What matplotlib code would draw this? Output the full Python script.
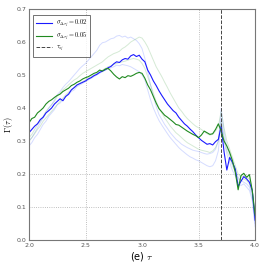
import numpy as np
import matplotlib
matplotlib.use("Agg")
import matplotlib.pyplot as plt

plt.rcParams["mathtext.fontset"] = "cm"

# tau grid, step 0.025
tau = np.linspace(2.0, 4.0, 81)
tau_s = 3.70

gamma_002 = [0.325, 0.335, 0.345, 0.352, 0.365, 0.372, 0.385, 0.392, 0.400, 0.412,
             0.420, 0.428, 0.422, 0.435, 0.442, 0.455, 0.462, 0.470, 0.474, 0.478,
             0.482, 0.488, 0.492, 0.498, 0.502, 0.508, 0.512, 0.516, 0.522, 0.526,
             0.534, 0.540, 0.538, 0.546, 0.550, 0.548, 0.558, 0.562, 0.556, 0.560,
             0.548, 0.540, 0.515, 0.500, 0.482, 0.468, 0.452, 0.438, 0.425, 0.412,
             0.402, 0.392, 0.385, 0.372, 0.362, 0.352, 0.345, 0.336, 0.328, 0.318,
             0.310, 0.302, 0.296, 0.290, 0.292, 0.288, 0.298, 0.305, 0.345, 0.268,
             0.212, 0.250, 0.235, 0.215, 0.162, 0.178, 0.192, 0.185, 0.175, 0.150,
             0.060]

gamma_005 = [0.355, 0.368, 0.372, 0.385, 0.392, 0.400, 0.412, 0.420, 0.425, 0.432,
             0.438, 0.442, 0.450, 0.455, 0.460, 0.468, 0.472, 0.478, 0.482, 0.488,
             0.492, 0.495, 0.500, 0.505, 0.508, 0.515, 0.512, 0.518, 0.520, 0.512,
             0.502, 0.494, 0.488, 0.495, 0.492, 0.498, 0.496, 0.500, 0.505, 0.508,
             0.505, 0.490, 0.470, 0.455, 0.435, 0.415, 0.398, 0.388, 0.378, 0.372,
             0.365, 0.358, 0.350, 0.348, 0.342, 0.336, 0.330, 0.325, 0.320, 0.316,
             0.310, 0.318, 0.330, 0.325, 0.320, 0.322, 0.335, 0.352, 0.330, 0.300,
             0.285, 0.265, 0.240, 0.205, 0.152, 0.195, 0.202, 0.190, 0.198, 0.150,
             0.075]

# faint single-run curves
blue_hi = [0.300, 0.310, 0.325, 0.340, 0.355, 0.370, 0.385, 0.400, 0.410, 0.425,
           0.440, 0.450, 0.462, 0.472, 0.480, 0.490, 0.500, 0.510, 0.520, 0.528,
           0.535, 0.545, 0.555, 0.565, 0.575, 0.590, 0.598, 0.600, 0.605, 0.610,
           0.612, 0.618, 0.620, 0.615, 0.618, 0.612, 0.615, 0.610, 0.605, 0.595,
           0.580, 0.550, 0.510, 0.470, 0.435, 0.405, 0.380, 0.365, 0.350, 0.338,
           0.325, 0.315, 0.305, 0.298, 0.290, 0.285, 0.280, 0.276, 0.272, 0.270,
           0.268, 0.265, 0.262, 0.260, 0.262, 0.265, 0.275, 0.300, 0.400, 0.330,
           0.280, 0.260, 0.230, 0.210, 0.190, 0.180, 0.175, 0.170, 0.160, 0.130,
           0.050]

blue_lo = [0.285, 0.295, 0.310, 0.320, 0.335, 0.350, 0.360, 0.375, 0.385, 0.395,
           0.410, 0.415, 0.425, 0.435, 0.440, 0.450, 0.455, 0.465, 0.470, 0.475,
           0.480, 0.485, 0.490, 0.495, 0.500, 0.505, 0.510, 0.515, 0.518, 0.522,
           0.525, 0.530, 0.528, 0.532, 0.530, 0.528, 0.525, 0.520, 0.515, 0.510,
           0.500, 0.485, 0.455, 0.425, 0.400, 0.380, 0.362, 0.348, 0.335, 0.322,
           0.310, 0.300, 0.290, 0.280, 0.272, 0.265, 0.258, 0.252, 0.248, 0.243,
           0.240, 0.235, 0.230, 0.225, 0.222, 0.225, 0.240, 0.270, 0.370, 0.300,
           0.260, 0.235, 0.210, 0.195, 0.175, 0.165, 0.170, 0.160, 0.150, 0.120,
           0.040]

green_hi = [0.310, 0.320, 0.335, 0.350, 0.360, 0.375, 0.390, 0.400, 0.410, 0.420,
            0.435, 0.445, 0.455, 0.462, 0.470, 0.478, 0.485, 0.490, 0.498, 0.505,
            0.510, 0.515, 0.520, 0.525, 0.530, 0.535, 0.540, 0.548, 0.555, 0.560,
            0.565, 0.568, 0.572, 0.580, 0.585, 0.592, 0.600, 0.605, 0.610, 0.615,
            0.612, 0.600, 0.585, 0.565, 0.545, 0.525, 0.510, 0.495, 0.478, 0.462,
            0.445, 0.430, 0.415, 0.400, 0.390, 0.378, 0.368, 0.360, 0.352, 0.345,
            0.340, 0.335, 0.328, 0.322, 0.318, 0.320, 0.330, 0.345, 0.390, 0.340,
            0.300, 0.275, 0.250, 0.225, 0.200, 0.190, 0.195, 0.190, 0.185, 0.150,
            0.070]

green_lo = [0.300, 0.310, 0.322, 0.335, 0.345, 0.360, 0.370, 0.380, 0.390, 0.400,
            0.410, 0.420, 0.430, 0.440, 0.448, 0.455, 0.462, 0.468, 0.475, 0.480,
            0.485, 0.490, 0.495, 0.500, 0.505, 0.510, 0.515, 0.520, 0.525, 0.528,
            0.532, 0.535, 0.538, 0.540, 0.542, 0.545, 0.548, 0.550, 0.548, 0.545,
            0.535, 0.520, 0.495, 0.470, 0.445, 0.420, 0.400, 0.385, 0.370, 0.358,
            0.345, 0.335, 0.325, 0.318, 0.310, 0.302, 0.295, 0.290, 0.285, 0.280,
            0.275, 0.272, 0.270, 0.268, 0.265, 0.270, 0.280, 0.300, 0.360, 0.310,
            0.270, 0.250, 0.225, 0.205, 0.185, 0.180, 0.185, 0.180, 0.170, 0.140,
            0.060]

# dotted guide lines
guide_x = [2.5, 3.5]
guide_y = [0.1, 0.2]

fig = plt.figure(figsize=(2.66, 2.66), dpi=100)
ax = fig.add_axes([0.109, 0.098, 0.85, 0.868])

for gx in guide_x:
    ax.axvline(gx, ls=":", lw=0.6, color="#aaaaaa", zorder=0)
for gy in guide_y:
    ax.axhline(gy, ls=":", lw=0.6, color="#aaaaaa", zorder=0)

for y in (blue_hi, blue_lo):
    ax.plot(tau, y, color="#4060ff", lw=0.7, alpha=0.22)
for y in (green_hi, green_lo):
    ax.plot(tau, y, color="#40a040", lw=0.7, alpha=0.22)

ax.plot(tau, gamma_002, color="#1a1aff", lw=0.8, label=r"$\sigma_{\Delta\tau_j}=0.02$")
ax.plot(tau, gamma_005, color="#208a20", lw=0.8, label=r"$\sigma_{\Delta\tau_j}=0.05$")
ax.axvline(tau_s, color="#444444", ls="--", lw=0.7, label=r"$\tau_{s_j}$")

ax.set_xlim(2.0, 4.0)
ax.set_ylim(0.0, 0.7)
ax.set_xticks([2.0, 2.5, 3.0, 3.5, 4.0])
ax.set_yticks(np.arange(0, 0.71, 0.1))
ax.tick_params(length=0, labelsize=4.5, colors="#555555", pad=2)
for s in ax.spines.values():
    s.set_color("#777777")
    s.set_linewidth(0.8)

ax.set_xlabel(r"(e) $\tau$", fontsize=7, labelpad=2)
ax.set_ylabel(r"$\Gamma(\tau)$", fontsize=6, labelpad=1)

leg = ax.legend(loc="upper left", fontsize=4.6, frameon=True, fancybox=False,
                handlelength=2.4, borderpad=0.45, labelspacing=0.15,
                handletextpad=0.7, bbox_to_anchor=(0.005, 0.99))
leg.get_frame().set_edgecolor("#333333")
leg.get_frame().set_linewidth(0.6)

fig.savefig("out.png", dpi=100)
